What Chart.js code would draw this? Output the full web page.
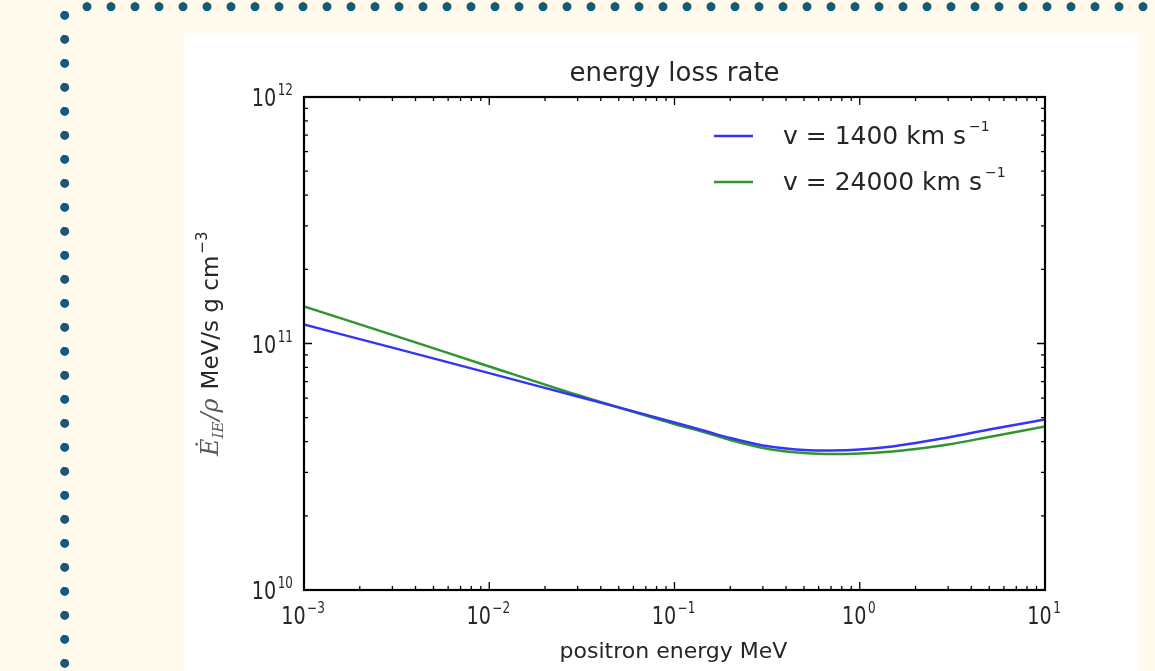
<!DOCTYPE html>
<html><head><meta charset="utf-8">
<script src="https://cdn.jsdelivr.net/npm/chart.js@4.4.1/dist/chart.umd.min.js"></script>
<style>
html,body{margin:0;padding:0;width:1155px;height:671px;overflow:hidden;background:#fffaeb;}
#dotsTop{position:absolute;left:75px;top:0;width:1080px;height:14px;background-image:radial-gradient(circle at 12px 6.7px,#155a7b 4.1px,rgba(21,90,123,0) 4.8px);background-size:24px 14px;background-repeat:repeat-x;}
#dotsLeft{position:absolute;left:53px;top:3px;width:24px;height:668px;background-image:radial-gradient(circle at 11.7px 12.3px,#155a7b 4.1px,rgba(21,90,123,0) 4.8px);background-size:24px 24px;background-repeat:repeat-y;}
#panel{position:absolute;left:184px;top:33px;width:954px;height:638px;background:#fff;}
#c{position:absolute;left:0;top:0;}
</style></head>
<body>
<div id="dotsTop"></div><div id="dotsLeft"></div><div id="panel"></div>
<canvas id="c" width="1155" height="671"></canvas>
<script>
// ---- data ----
const energiesMeV = [0.001, 0.003, 0.01, 0.03, 0.1, 0.15, 0.2, 0.3, 0.4, 0.5, 0.7, 1, 1.5, 2, 3, 5, 10];
const lossV1400  = [1.194e11, 9.615e10, 7.578e10, 6.095e10, 4.781e10, 4.395e10, 4.136e10, 3.857e10, 3.750e10, 3.698e10, 3.681e10, 3.715e10, 3.821e10, 3.948e10, 4.156e10, 4.478e10, 4.918e10];
const lossV24000 = [1.413e11, 1.083e11, 8.067e10, 6.181e10, 4.715e10, 4.335e10, 4.059e10, 3.768e10, 3.647e10, 3.596e10, 3.562e10, 3.579e10, 3.647e10, 3.733e10, 3.893e10, 4.176e10, 4.605e10];
const seriesLabels = ['v = 1400 km s', 'v = 24000 km s'];
const seriesLabelSup = '\u22121';
const seriesColors = ['#3535f5', '#2e962e'];
const xDecades = [1e-3, 1e-2, 1e-1, 1e0, 1e1];
const xDecadeExponents = ['\u22123', '\u22122', '\u22121', '0', '1'];
const yDecades = [1e10, 1e11, 1e12];
const yDecadeExponents = ['10', '11', '12'];
const titleText = 'energy loss rate';
const xAxisLabel = 'positron energy MeV';
const yAxisUnits = 'MeV/s g cm';
const yAxisUnitsSup = '\u22123';

function withMinors(decades) {
  const out = [];
  for (let i = 0; i < decades.length - 1; i++) {
    for (let m = 1; m <= 9; m++) out.push({ value: parseFloat((m * decades[i]).toPrecision(6)), major: m === 1 });
  }
  out.push({ value: decades[decades.length - 1], major: true });
  return out;
}

const TXT = '#262626';
function drawPower(ctx, exp, x, baseline, align) {
  const hs = 0.8;
  const bf = '24px "DejaVu Sans"', sf = '15px "DejaVu Sans"';
  ctx.font = bf; const wb = ctx.measureText('10').width * hs;
  ctx.font = sf; const we = ctx.measureText(exp).width * hs;
  const gap = 1.5, total = wb + gap + we;
  const x0 = align === 'center' ? x - total / 2 : x - total;
  ctx.save();
  ctx.translate(x0, baseline); ctx.scale(hs, 1);
  ctx.fillStyle = TXT; ctx.textAlign = 'left'; ctx.textBaseline = 'alphabetic';
  ctx.font = bf; ctx.fillText('10', 0, 0);
  ctx.font = sf; ctx.fillText(exp, (wb + gap) / hs, -11);
  ctx.restore();
}

const decorPlugin = {
  id: 'decor',
  afterDraw(chart) {
    const ctx = chart.ctx, a = chart.chartArea, xs = chart.scales.x, ys = chart.scales.y;
    ctx.save();
    // ticks (inward, all four sides)
    ctx.strokeStyle = '#000'; ctx.lineWidth = 1.3;
    xs.ticks.forEach(t => {
      const px = xs.getPixelForValue(t.value), len = t.major ? 8 : 4;
      ctx.beginPath();
      ctx.moveTo(px, a.bottom); ctx.lineTo(px, a.bottom - len);
      ctx.moveTo(px, a.top); ctx.lineTo(px, a.top + len);
      ctx.stroke();
    });
    ys.ticks.forEach(t => {
      const py = ys.getPixelForValue(t.value), len = t.major ? 8 : 4;
      ctx.beginPath();
      ctx.moveTo(a.left, py); ctx.lineTo(a.left + len, py);
      ctx.moveTo(a.right, py); ctx.lineTo(a.right - len, py);
      ctx.stroke();
    });
    // frame
    ctx.lineWidth = 2.2;
    ctx.strokeRect(a.left, a.top, a.right - a.left, a.bottom - a.top);
    // tick labels
    xDecades.forEach((v, i) => drawPower(ctx, xDecadeExponents[i], xs.getPixelForValue(v) - 1, a.bottom + 34, 'center'));
    yDecades.forEach((v, i) => drawPower(ctx, yDecadeExponents[i], a.left - 11, ys.getPixelForValue(v) + 9, 'right'));
    // x label
    ctx.fillStyle = TXT; ctx.font = '22px "DejaVu Sans"'; ctx.textAlign = 'center'; ctx.textBaseline = 'alphabetic';
    ctx.fillText(xAxisLabel, (a.left + a.right) / 2 - 1, a.bottom + 68);
    // y label (rotated)
    ctx.save();
    ctx.translate(a.left - 86, 456); ctx.rotate(-Math.PI / 2);
    ctx.textAlign = 'left';
    let cx = 0;
    ctx.fillStyle = '#5a5a5a';
    ctx.font = 'italic 24px "DejaVu Serif"'; ctx.fillText('\u0116', cx, 0); cx += ctx.measureText('\u0116').width;
    ctx.font = 'italic 15px "DejaVu Serif"'; ctx.fillText('IE', cx, 5); cx += ctx.measureText('IE').width + 1;
    ctx.font = 'italic 24px "DejaVu Serif"'; ctx.fillText('/\u03c1', cx, 0); cx += ctx.measureText('/\u03c1').width + 9;
    ctx.fillStyle = TXT;
    ctx.font = '23px "DejaVu Sans"'; ctx.fillText(yAxisUnits, cx, 0); cx += ctx.measureText(yAxisUnits).width + 2;
    ctx.font = '15px "DejaVu Sans"'; ctx.fillText(yAxisUnitsSup, cx, -11);
    ctx.restore();
    // legend
    chart.data.datasets.forEach((ds, i) => {
      const ly = a.top + 39 + i * 46;
      ctx.strokeStyle = ds.borderColor; ctx.lineWidth = 2.4;
      ctx.beginPath(); ctx.moveTo(a.right - 331, ly); ctx.lineTo(a.right - 292, ly); ctx.stroke();
      ctx.fillStyle = TXT; ctx.textAlign = 'left';
      ctx.font = '25px "DejaVu Sans"';
      const tx = a.right - 262;
      ctx.fillText(ds.label, tx, ly + 8);
      const w = ctx.measureText(ds.label).width;
      ctx.font = '14px "DejaVu Sans"';
      ctx.fillText(seriesLabelSup, tx + w + 3, ly - 5);
    });
    ctx.restore();
  }
};

const mk = (ys) => energiesMeV.map((x, i) => ({ x, y: ys[i] }));

new Chart(document.getElementById('c'), {
  type: 'line',
  data: {
    datasets: [
      { label: seriesLabels[0], data: mk(lossV1400), borderColor: seriesColors[0], borderWidth: 2.4, pointRadius: 0, tension: 0.3, fill: false },
      { label: seriesLabels[1], data: mk(lossV24000), borderColor: seriesColors[1], borderWidth: 2.4, pointRadius: 0, tension: 0.3, fill: false }
    ]
  },
  options: {
    responsive: false, devicePixelRatio: 1, animation: false,
    layout: { padding: { left: 304, right: 110, top: 58.8, bottom: 81 } },
    plugins: {
      legend: { display: false }, tooltip: { enabled: false },
      title: { display: true, text: titleText, color: TXT, font: { family: 'DejaVu Sans', size: 26, weight: 'normal' }, padding: { top: 0, bottom: 7 } }
    },
    scales: {
      x: {
        type: 'logarithmic', min: xDecades[0], max: xDecades[xDecades.length - 1],
        afterBuildTicks: s => { s.ticks = withMinors(xDecades); },
        afterFit: s => { s.height = 0; },
        ticks: { display: false }, grid: { display: false }, border: { display: false }
      },
      y: {
        type: 'logarithmic', min: yDecades[0], max: yDecades[yDecades.length - 1],
        afterBuildTicks: s => { s.ticks = withMinors(yDecades); },
        afterFit: s => { s.width = 0; },
        ticks: { display: false }, grid: { display: false }, border: { display: false }
      }
    }
  },
  plugins: [decorPlugin]
});
</script>
</body></html>
